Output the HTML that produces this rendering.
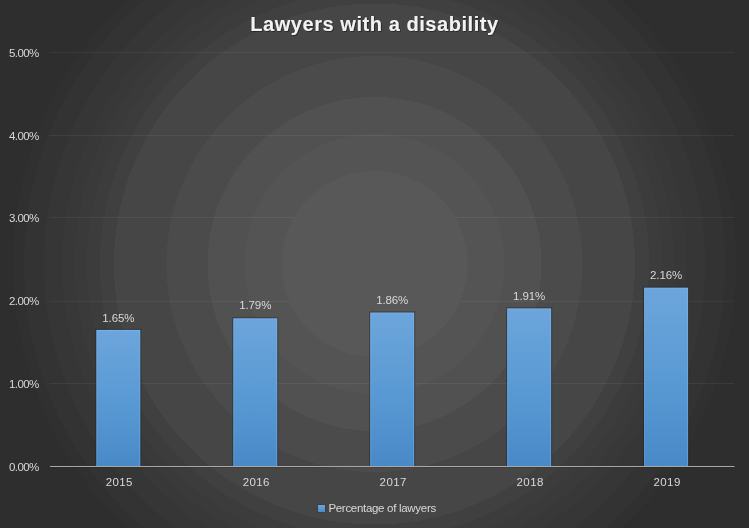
<!DOCTYPE html>
<html><head><meta charset="utf-8"><style>
html,body{margin:0;padding:0;width:749px;height:528px;overflow:hidden;background:#3a3a3a}
svg{display:block}
text{font-family:"Liberation Sans",Arial,sans-serif}
</style></head><body>
<svg width="749" height="528" viewBox="0 0 749 528">
<defs>
<radialGradient id="bg" gradientUnits="userSpaceOnUse" cx="374.5" cy="264" r="458.0">
<stop offset="0.00000" stop-color="#585858"/>
<stop offset="0.20306" stop-color="#585858"/>
<stop offset="0.20306" stop-color="#545454"/>
<stop offset="0.28384" stop-color="#545454"/>
<stop offset="0.28384" stop-color="#515151"/>
<stop offset="0.36463" stop-color="#515151"/>
<stop offset="0.36463" stop-color="#4b4b4b"/>
<stop offset="0.45415" stop-color="#4b4b4b"/>
<stop offset="0.45415" stop-color="#464646"/>
<stop offset="0.56878" stop-color="#464646"/>
<stop offset="0.56878" stop-color="#404040"/>
<stop offset="0.59934" stop-color="#404040"/>
<stop offset="0.59934" stop-color="#3c3c3c"/>
<stop offset="0.62773" stop-color="#3c3c3c"/>
<stop offset="0.62773" stop-color="#3a3a3a"/>
<stop offset="0.65393" stop-color="#3a3a3a"/>
<stop offset="0.65393" stop-color="#383838"/>
<stop offset="0.68122" stop-color="#383838"/>
<stop offset="0.68122" stop-color="#363636"/>
<stop offset="0.72162" stop-color="#363636"/>
<stop offset="0.72162" stop-color="#333333"/>
<stop offset="0.76528" stop-color="#333333"/>
<stop offset="0.76528" stop-color="#303030"/>
<stop offset="0.78930" stop-color="#303030"/>
<stop offset="0.78930" stop-color="#2e2e2e"/>
<stop offset="1.00000" stop-color="#2e2e2e"/>
</radialGradient>
<linearGradient id="bar" x1="0" y1="0" x2="0" y2="1">
<stop offset="0" stop-color="#6ca5db"/>
<stop offset="0.5" stop-color="#5a9ad4"/>
<stop offset="1" stop-color="#4989c7"/>
</linearGradient>
<linearGradient id="bare" x1="0" y1="0" x2="0" y2="1">
<stop offset="0" stop-color="#74b0ea"/>
<stop offset="1" stop-color="#5a9fe0"/>
</linearGradient>
<filter id="sh" x="-10%" y="-10%" width="120%" height="130%">
<feDropShadow dx="0.7" dy="0.7" stdDeviation="0.7" flood-color="#000" flood-opacity="0.6"/>
</filter>
</defs>
<rect x="0" y="0" width="749" height="528" fill="url(#bg)"/>

<rect x="49.5" y="52" width="684.7" height="1" fill="#ffffff" fill-opacity="0.06"/>
<rect x="49.5" y="135" width="684.7" height="1" fill="#ffffff" fill-opacity="0.06"/>
<rect x="49.5" y="217" width="684.7" height="1" fill="#ffffff" fill-opacity="0.06"/>
<rect x="49.5" y="300.75" width="684.7" height="1" fill="#ffffff" fill-opacity="0.06"/>
<rect x="49.5" y="383" width="684.7" height="1" fill="#ffffff" fill-opacity="0.06"/>
<circle cx="374.5" cy="264" r="93" fill="url(#bg)"/>
<text x="38.7" y="470.70" text-anchor="end" font-size="11.5" fill="#d9d9d9" letter-spacing="-0.6">0.00%</text>
<text x="38.7" y="387.90" text-anchor="end" font-size="11.5" fill="#d9d9d9" letter-spacing="-0.6">1.00%</text>
<text x="38.7" y="305.10" text-anchor="end" font-size="11.5" fill="#d9d9d9" letter-spacing="-0.6">2.00%</text>
<text x="38.7" y="222.30" text-anchor="end" font-size="11.5" fill="#d9d9d9" letter-spacing="-0.6">3.00%</text>
<text x="38.7" y="139.50" text-anchor="end" font-size="11.5" fill="#d9d9d9" letter-spacing="-0.6">4.00%</text>
<text x="38.7" y="56.70" text-anchor="end" font-size="11.5" fill="#d9d9d9" letter-spacing="-0.6">5.00%</text>
<rect x="95.30" y="328.88" width="46.0" height="137.12" fill="#262626" fill-opacity="0.55"/>
<rect x="96.30" y="329.88" width="44.0" height="136.12" fill="url(#bare)"/>
<rect x="97.30" y="330.88" width="42.0" height="135.12" fill="url(#bar)"/>
<text x="118.30" y="322.00" text-anchor="middle" font-size="11.5" fill="#d9d9d9" letter-spacing="-0.1">1.65%</text>
<text x="119.30" y="486" text-anchor="middle" font-size="11.5" fill="#d9d9d9" letter-spacing="0.4">2015</text>
<rect x="232.25" y="317.29" width="46.0" height="148.71" fill="#262626" fill-opacity="0.55"/>
<rect x="233.25" y="318.29" width="44.0" height="147.71" fill="url(#bare)"/>
<rect x="234.25" y="319.29" width="42.0" height="146.71" fill="url(#bar)"/>
<text x="255.25" y="309.40" text-anchor="middle" font-size="11.5" fill="#d9d9d9" letter-spacing="-0.1">1.79%</text>
<text x="256.25" y="486" text-anchor="middle" font-size="11.5" fill="#d9d9d9" letter-spacing="0.4">2016</text>
<rect x="369.20" y="311.49" width="46.0" height="154.51" fill="#262626" fill-opacity="0.55"/>
<rect x="370.20" y="312.49" width="44.0" height="153.51" fill="url(#bare)"/>
<rect x="371.20" y="313.49" width="42.0" height="152.51" fill="url(#bar)"/>
<text x="392.20" y="303.60" text-anchor="middle" font-size="11.5" fill="#d9d9d9" letter-spacing="-0.1">1.86%</text>
<text x="393.20" y="486" text-anchor="middle" font-size="11.5" fill="#d9d9d9" letter-spacing="0.4">2017</text>
<rect x="506.15" y="307.35" width="46.0" height="158.65" fill="#262626" fill-opacity="0.55"/>
<rect x="507.15" y="308.35" width="44.0" height="157.65" fill="url(#bare)"/>
<rect x="508.15" y="309.35" width="42.0" height="156.65" fill="url(#bar)"/>
<text x="529.15" y="299.70" text-anchor="middle" font-size="11.5" fill="#d9d9d9" letter-spacing="-0.1">1.91%</text>
<text x="530.15" y="486" text-anchor="middle" font-size="11.5" fill="#d9d9d9" letter-spacing="0.4">2018</text>
<rect x="643.10" y="286.65" width="46.0" height="179.35" fill="#262626" fill-opacity="0.55"/>
<rect x="644.10" y="287.65" width="44.0" height="178.35" fill="url(#bare)"/>
<rect x="645.10" y="288.65" width="42.0" height="177.35" fill="url(#bar)"/>
<text x="666.10" y="279.30" text-anchor="middle" font-size="11.5" fill="#d9d9d9" letter-spacing="-0.1">2.16%</text>
<text x="667.10" y="486" text-anchor="middle" font-size="11.5" fill="#d9d9d9" letter-spacing="0.4">2019</text>
<rect x="50" y="466" width="684.5" height="1" fill="#a8a8a8"/>
<rect x="50" y="467" width="684.5" height="1" fill="#000" fill-opacity="0.1"/>
<rect x="317.5" y="504.5" width="8" height="8" fill="#262626" fill-opacity="0.4"/><rect x="318" y="505" width="7" height="7" fill="url(#bar)"/>
<text x="328.4" y="512.2" font-size="11.5" fill="#d9d9d9" letter-spacing="-0.3">Percentage of lawyers</text>
<text x="374.5" y="31" text-anchor="middle" font-size="20" font-weight="bold" fill="#f2f2f2" letter-spacing="0.56" filter="url(#sh)">Lawyers with a disability</text>
</svg></body></html>
